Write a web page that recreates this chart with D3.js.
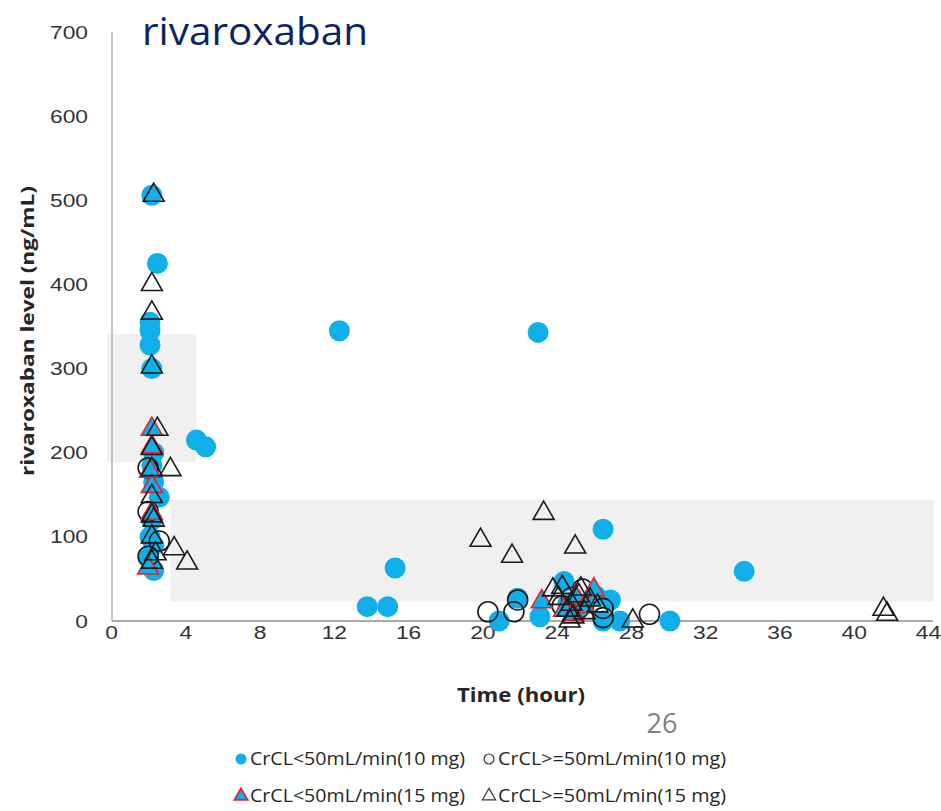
<!DOCTYPE html>
<html>
<head>
<meta charset="utf-8">
<script src="https://cdn.jsdelivr.net/npm/d3@7"></script>
<style>
  body { margin: 0; background: #fff; }
  svg { font-family: "Open Sans", sans-serif; }
</style>
</head>
<body>
<svg width="941" height="811"></svg>
<script>
// CrCL<50mL/min (10 mg) - filled blue circles
var lowCr10Time  = [2.2, 2.5, 2.1, 2.1, 2.1, 2.2, 2.3, 2.2, 2.3, 2.6, 2.2, 2.1, 2.3, 2.0, 2.3, 4.6, 5.1, 12.3, 23.0, 13.8, 14.9, 15.3, 26.5, 34.1, 30.1, 20.9, 21.9, 24.4, 26.9, 26.5, 27.4, 23.1, 25.0, 26.1, 24.6];
var lowCr10Level = [506, 425, 355, 345, 328, 300, 200, 185, 165, 147, 120, 100, 90, 75, 60, 215, 207, 345, 343, 17, 17, 63, 109, 59, 0, 0, 27, 47, 25, 0, 0, 5, 10, 30, 20];

// CrCL>=50mL/min (10 mg) - open circles
var highCr10Time  = [2.0, 2.0, 2.6, 2.0, 20.3, 21.7, 21.9, 24.8, 25.4, 25.2, 26.5, 26.5, 29.0, 24.3];
var highCr10Level = [182, 130, 95, 77, 11, 11, 25, 28, 38, 15, 15, 4, 8, 18];

// CrCL<50mL/min (15 mg) - blue triangles, red outline
var lowCr15Time  = [2.2, 2.2, 2.1, 2.2, 2.2, 2.0, 23.2, 24.4, 25.0, 25.5, 26.0, 24.9];
var lowCr15Level = [228, 207, 178, 160, 128, 63, 23, 13, 29, 17, 37, 8];

// CrCL>=50mL/min (15 mg) - open triangles
var highCr15Time  = [2.3, 2.2, 2.2, 2.2, 2.5, 3.2, 3.4, 4.1, 2.2, 2.2, 2.2, 2.2, 2.3, 2.2, 2.4, 2.2, 19.9, 21.6, 23.3, 25.0, 23.8, 24.1, 24.6, 24.7, 25.8, 28.1, 41.6, 41.8, 24.3, 24.8, 25.2, 25.5, 26.2, 24.9, 25.3];
var highCr15Level = [506, 400, 366, 302, 228, 180, 86, 69, 205, 180, 148, 125, 120, 100, 80, 70, 96, 77, 128, 88, 37, 27, 13, 0, 25, 0, 14, 8, 40, 20, 30, 10, 18, 5, 38];

// shaded reference ranges [time start, time end, level low, level high]
var peakRange   = [-0.2, 4.6, 189, 341];
var troughRange = [3.2, 44.3, 23, 144];

var xTicks = [0, 4, 8, 12, 16, 20, 24, 28, 32, 36, 40, 44];
var yTicks = [0, 100, 200, 300, 400, 500, 600, 700];

var legendLabels = ['CrCL<50mL/min(10 mg)', 'CrCL>=50mL/min(10 mg)', 'CrCL<50mL/min(15 mg)', 'CrCL>=50mL/min(15 mg)'];

var blue = '#0fb0ea';
var stretch = 1.2;   // tick labels look wide in the original

var svg = d3.select('svg');

var x = d3.scaleLinear().domain([0, 44]).range([111, 928]);
var y = d3.scaleLinear().domain([0, 700]).range([621, 32]);

// shaded boxes
[peakRange, troughRange].forEach(function(r) {
    svg.append('rect')
        .attr('x', x(r[0]))
        .attr('y', y(r[3]))
        .attr('width', x(r[1]) - x(r[0]))
        .attr('height', y(r[2]) - y(r[3]))
        .attr('fill', '#f0f0f0');
});

// axes lines
svg.append('line')
    .attr('x1', 112).attr('x2', 112)
    .attr('y1', y(700)).attr('y2', y(0))
    .attr('stroke', '#c4c4c4').attr('stroke-width', 2);
svg.append('line')
    .attr('x1', 112).attr('x2', 933)
    .attr('y1', y(0)).attr('y2', y(0))
    .attr('stroke', '#8c8c8c').attr('stroke-width', 1.5);

var yAxis = svg.append('g')
    .attr('transform', 'translate(111,0)')
    .call(d3.axisLeft(y).tickValues(yTicks).tickSize(0));
yAxis.select('.domain').remove();
yAxis.selectAll('text')
    .attr('x', -23 / stretch)
    .attr('transform', 'scale(' + stretch + ',1)')
    .attr('font-size', 19).attr('fill', '#333');

var xAxis = svg.append('g')
    .attr('transform', 'translate(0,621)')
    .call(d3.axisBottom(x).tickValues(xTicks).tickSize(0).tickPadding(5));
xAxis.select('.domain').remove();
xAxis.selectAll('text')
    .attr('transform', 'scale(' + stretch + ',1)')
    .attr('font-size', 19).attr('fill', '#333');

// titles
svg.append('text')
    .attr('x', 142).attr('y', 45)
    .attr('font-size', 39)
    .attr('fill', '#0c2461')
    .attr('textLength', 226).attr('lengthAdjust', 'spacingAndGlyphs')
    .text('rivaroxaban');

svg.append('text')
    .attr('transform', 'translate(34,331) rotate(-90)')
    .attr('text-anchor', 'middle')
    .attr('font-size', 18)
    .attr('font-weight', 'bold')
    .attr('fill', '#262626')
    .attr('textLength', 290).attr('lengthAdjust', 'spacingAndGlyphs')
    .text('rivaroxaban level (ng/mL)');

svg.append('text')
    .attr('x', 521).attr('y', 702)
    .attr('text-anchor', 'middle')
    .attr('font-size', 20)
    .attr('font-weight', 'bold')
    .attr('fill', '#262626')
    .attr('textLength', 128).attr('lengthAdjust', 'spacingAndGlyphs')
    .text('Time (hour)');

svg.append('text')
    .attr('x', 662).attr('y', 733)
    .attr('text-anchor', 'middle')
    .attr('font-size', 27)
    .attr('fill', '#7f7f7f')
    .text('26');

// points
var tri = d3.symbol().type(d3.symbolTriangle).size(190);

svg.append('g').selectAll('circle')
    .data(d3.zip(lowCr10Time, lowCr10Level))
    .enter().append('circle')
    .attr('cx', function(d) { return x(d[0]); })
    .attr('cy', function(d) { return y(d[1]); })
    .attr('r', 10.5)
    .attr('fill', blue);

svg.append('g').selectAll('circle')
    .data(d3.zip(highCr10Time, highCr10Level))
    .enter().append('circle')
    .attr('cx', function(d) { return x(d[0]); })
    .attr('cy', function(d) { return y(d[1]); })
    .attr('r', 10)
    .attr('fill', 'none')
    .attr('stroke', '#1a1a1a')
    .attr('stroke-width', 1.6);

svg.append('g').selectAll('path')
    .data(d3.zip(lowCr15Time, lowCr15Level))
    .enter().append('path')
    .attr('d', tri)
    .attr('transform', function(d) { return 'translate(' + x(d[0]) + ',' + y(d[1]) + ')'; })
    .attr('fill', blue)
    .attr('stroke', '#e8222b')
    .attr('stroke-width', 1.6);

svg.append('g').selectAll('path')
    .data(d3.zip(highCr15Time, highCr15Level))
    .enter().append('path')
    .attr('d', tri)
    .attr('transform', function(d) { return 'translate(' + x(d[0]) + ',' + y(d[1]) + ')'; })
    .attr('fill', 'none')
    .attr('stroke', '#1a1a1a')
    .attr('stroke-width', 1.6);

// legend
var legendPos = [[241, 759], [489, 759], [241, 796], [489, 796]];
var legendWidth = [215, 228, 215, 228];
legendLabels.forEach(function(label, i) {
    var p = legendPos[i];
    var g = svg.append('g').attr('transform', 'translate(' + p[0] + ',' + p[1] + ')');
    if (i === 0) g.append('circle').attr('r', 5.5).attr('fill', blue);
    if (i === 1) g.append('circle').attr('r', 5).attr('fill', 'none').attr('stroke', '#333').attr('stroke-width', 1.2);
    if (i === 2) g.append('path').attr('d', d3.symbol().type(d3.symbolTriangle).size(75))
        .attr('fill', blue).attr('stroke', '#e8222b').attr('stroke-width', 1.8);
    if (i === 3) g.append('path').attr('d', d3.symbol().type(d3.symbolTriangle).size(75))
        .attr('fill', 'none').attr('stroke', '#333').attr('stroke-width', 1.2);
    g.append('text')
        .attr('x', 9).attr('y', 6)
        .attr('font-size', 19)
        .attr('fill', '#262626')
        .attr('textLength', legendWidth[i]).attr('lengthAdjust', 'spacingAndGlyphs')
        .text(label);
});
</script>
</body>
</html>
